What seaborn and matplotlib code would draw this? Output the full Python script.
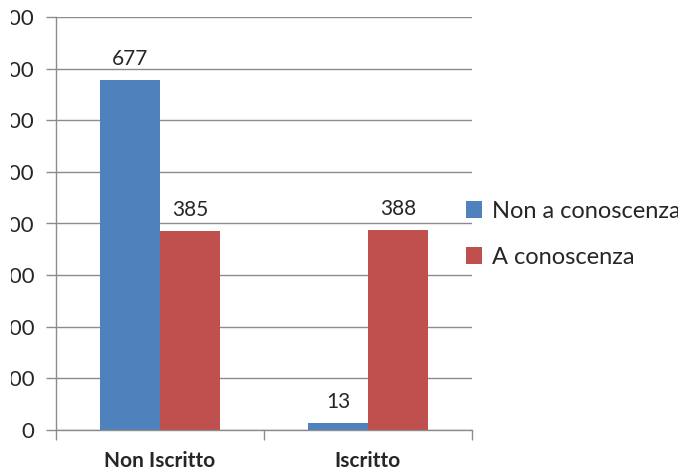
import matplotlib.pyplot as plt
import pandas as pd
import seaborn as sns
from matplotlib.transforms import Bbox

categories = ["Non Iscritto", "Iscritto"]
series = ["Non a conoscenza", "A conoscenza"]
non_a_conoscenza = [677, 13]
a_conoscenza = [385, 388]
y_ticks = [0, 100, 200, 300, 400, 500, 600, 700, 800]

df = pd.DataFrame({
    "categoria": categories * 2,
    "serie": [series[0]] * 2 + [series[1]] * 2,
    "valore": non_a_conoscenza + a_conoscenza,
})

sns.set_style("white")
plt.rcParams["font.family"] = ["Lato", "DejaVu Sans"]

fig = plt.figure(figsize=(6.78, 4.73), dpi=100)
ax = fig.add_axes([56 / 678, 1 - 430 / 473, 416 / 678, 413 / 473])

palette = {series[0]: "#4F81BD", series[1]: "#C0504D"}
sns.barplot(data=df, x="categoria", y="valore", hue="serie", order=categories,
            hue_order=series, palette=palette, width=0.577, saturation=1,
            edgecolor="none", ax=ax, legend=True)

ax.set_xlim(-0.5, 1.5)
ax.set_ylim(0, 800)
ax.set_yticks(y_ticks)
ax.set_yticklabels([str(v) for v in y_ticks], fontsize=16)
ax.yaxis.grid(True, color="#8c8c8c", linewidth=1)
ax.set_axisbelow(True)
ax.tick_params(axis="y", length=7, width=1, color="#8c8c8c", pad=8.5, direction="out", left=True)

# the reference is a crop: the hundreds digit of each y label is outside it
crop = Bbox.from_extents(10.5, 0, 678, 473)
for t in ax.yaxis.get_major_ticks():
    t.label1.set_clip_on(True)
    t.label1.set_clip_box(crop)

ax.set_xticks([-0.5, 0.5, 1.5])
ax.set_xticklabels(["", "", ""])
ax.tick_params(axis="x", length=7, width=1, color="#8c8c8c", direction="out", bottom=True)
for i, c in enumerate(categories):
    ax.text(i, -60, c, ha="center", va="center", fontsize=15, fontweight="bold")

for side in ["top", "right"]:
    ax.spines[side].set_visible(False)
for side in ["left", "bottom"]:
    ax.spines[side].set_color("#8c8c8c")
    ax.spines[side].set_linewidth(1)

ax.set_xlabel("")
ax.set_ylabel("")

for cont in ax.containers:
    ax.bar_label(cont, padding=8, fontsize=15)

ax.legend(loc="center left", bbox_to_anchor=(0.985, 0.474), frameon=False,
          fontsize=17, handlelength=0.7, handleheight=0.7, handletextpad=0.4,
          labelspacing=1.05, borderaxespad=0, borderpad=0)

fig.savefig("out.png", dpi=100)
